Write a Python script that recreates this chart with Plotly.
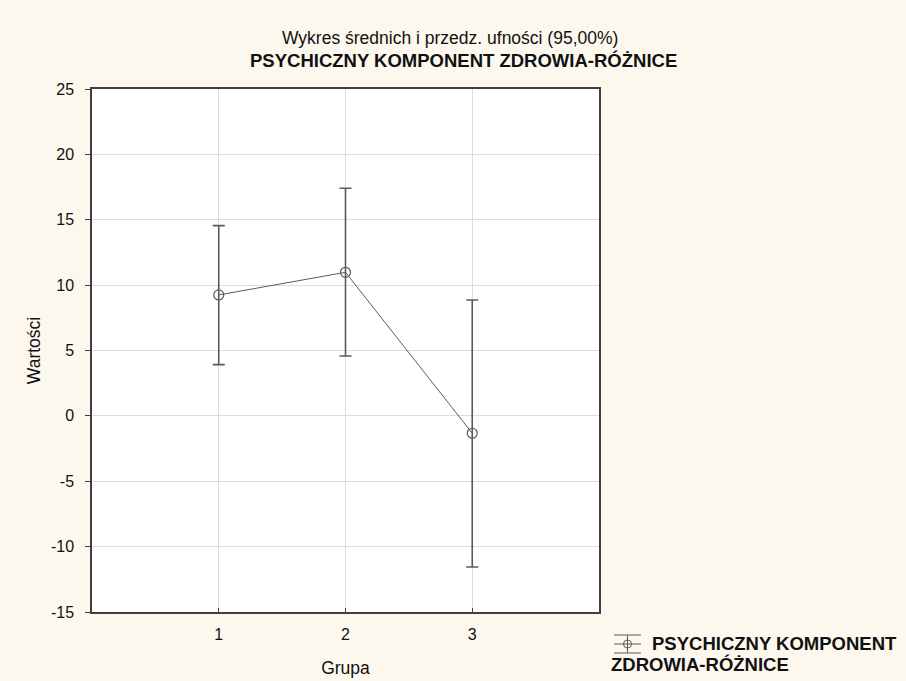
import plotly.graph_objects as go

groups = [1, 2, 3]
means = [9.25, 10.98, -1.33]
upper = [14.55, 17.41, 8.86]
lower = [3.92, 4.58, -11.56]
series_name = "PSYCHICZNY KOMPONENT ZDROWIA-RÓŻNICE"
x_ticks = [1, 2, 3]
y_ticks = [-15, -10, -5, 0, 5, 10, 15, 20, 25]

err_plus = [u - m for u, m in zip(upper, means)]
err_minus = [m - l for m, l in zip(means, lower)]

W, H = 906, 681
L, R, T, B = 92, 599, 89, 612
line_col = "#5a5a5a"
font_family = "Liberation Sans, Arial, sans-serif"
txt_col = "#111111"

fig = go.Figure()
fig.add_trace(go.Scatter(
    x=groups, y=means, mode="lines+markers",
    line=dict(color=line_col, width=1),
    marker=dict(symbol="circle-open", size=10, color=line_col, line=dict(width=1.2, color=line_col)),
    error_y=dict(type="data", symmetric=False, array=err_plus, arrayminus=err_minus,
                 color=line_col, thickness=1.6, width=6),
    showlegend=False, name=series_name,
))

def px2x(px):
    return (px - L) / (R - L)

def py2y(py):
    return (B - py) / (B - T)

shapes = []
# legend symbol
for yy in (635, 644, 653):
    shapes.append(dict(type="line", xref="paper", yref="paper",
                       x0=px2x(614), x1=px2x(641), y0=py2y(yy), y1=py2y(yy),
                       line=dict(color=line_col, width=1)))
shapes.append(dict(type="line", xref="paper", yref="paper",
                   x0=px2x(627.5), x1=px2x(627.5), y0=py2y(635), y1=py2y(653),
                   line=dict(color=line_col, width=1)))
shapes.append(dict(type="circle", xref="paper", yref="paper",
                   x0=px2x(623.5), x1=px2x(631.5), y0=py2y(648), y1=py2y(640),
                   line=dict(color=line_col, width=1), fillcolor="rgba(0,0,0,0)"))

annotations = [
    dict(text="Wykres średnich i przedz. ufności (95,00%)", xref="paper", yref="paper",
         x=px2x(450), y=py2y(38), xanchor="center", yanchor="middle", showarrow=False,
         font=dict(family=font_family, size=17.5, color=txt_col)),
    dict(text="<b>PSYCHICZNY KOMPONENT ZDROWIA-RÓŻNICE</b>", xref="paper", yref="paper",
         x=px2x(463), y=py2y(60), xanchor="center", yanchor="middle", showarrow=False,
         font=dict(family=font_family, size=18.5, color=txt_col)),
    dict(text="<b>PSYCHICZNY KOMPONENT</b>", xref="paper", yref="paper",
         x=px2x(650), y=py2y(643), xanchor="left", yanchor="middle", showarrow=False,
         font=dict(family=font_family, size=18.5, color=txt_col)),
    dict(text="<b>ZDROWIA-RÓŻNICE</b>", xref="paper", yref="paper",
         x=px2x(609), y=py2y(664), xanchor="left", yanchor="middle", showarrow=False,
         font=dict(family=font_family, size=18.5, color=txt_col)),
]

fig.update_layout(
    width=W, height=H,
    margin=dict(l=L, r=W - R, t=T, b=H - B),
    paper_bgcolor="#fdf8ee",
    plot_bgcolor="#ffffff",
    font=dict(family=font_family, size=16, color=txt_col),
    shapes=shapes,
    annotations=annotations,
    xaxis=dict(range=[0, 4], tickvals=x_ticks, ticktext=[str(v) for v in x_ticks],
               showgrid=True, gridcolor="#dcdcdc", gridwidth=1, automargin=False,
               zeroline=False, showline=True, linecolor="#404040", linewidth=1.5, mirror=True,
               ticks="inside", ticklen=4, tickcolor="#404040",
               tickfont=dict(size=16), ticklabelstandoff=7,
               title=dict(text="Grupa", standoff=20, font=dict(size=17.5)), fixedrange=True),
    yaxis=dict(range=[-15, 25], tickvals=y_ticks, ticktext=[str(v) for v in y_ticks],
               showgrid=True, gridcolor="#dcdcdc", gridwidth=1, automargin=False,
               zeroline=False, showline=True, linecolor="#404040", linewidth=1.5, mirror=True,
               ticks="outside", ticklen=5, tickcolor="#404040",
               tickfont=dict(size=16), ticklabelstandoff=8,
               title=dict(text="Wartości", standoff=6, font=dict(size=17.5)), fixedrange=True),
)

fig.write_html("out.html", config={"displayModeBar": False},
               post_script="document.body.style.margin='0';document.body.style.background='#fdf8ee';")
